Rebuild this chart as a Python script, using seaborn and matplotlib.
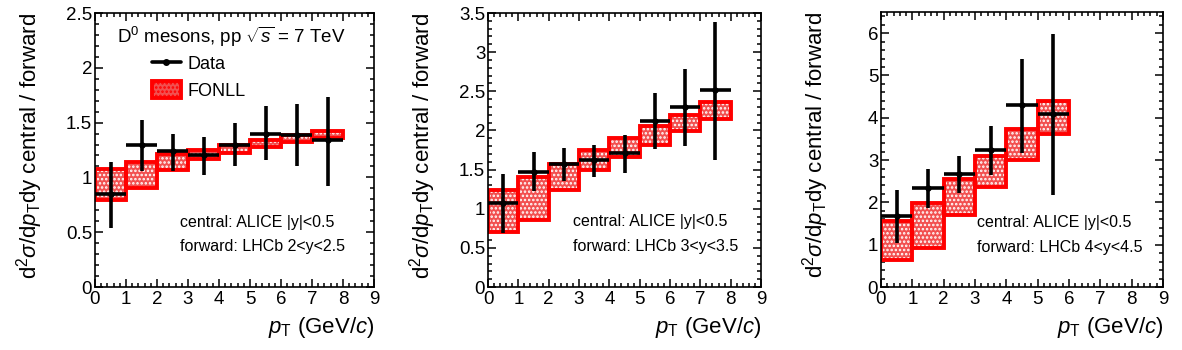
import numpy as np
import pandas as pd
import matplotlib
matplotlib.use("Agg")
import matplotlib.pyplot as plt
import seaborn as sns
from matplotlib.lines import Line2D
from matplotlib.patches import Patch
from matplotlib.ticker import MultipleLocator, FuncFormatter

# ---------------- data ----------------
pt_8 = [0.5, 1.5, 2.5, 3.5, 4.5, 5.5, 6.5, 7.5]
pt_6 = [0.5, 1.5, 2.5, 3.5, 4.5, 5.5]

# panel 1: LHCb 2<y<2.5
data1 = [0.85, 1.30, 1.24, 1.20, 1.30, 1.40, 1.39, 1.34]
data1_hi = [1.14, 1.52, 1.40, 1.37, 1.50, 1.65, 1.67, 1.73]
data1_lo = [0.54, 1.06, 1.06, 1.02, 1.10, 1.16, 1.10, 0.92]
fonll1_hi = [1.08, 1.14, 1.21, 1.25, 1.30, 1.34, 1.39, 1.42]
fonll1_lo = [0.79, 0.90, 1.07, 1.165, 1.22, 1.28, 1.32, 1.36]

# panel 2: LHCb 3<y<3.5
data2 = [1.07, 1.47, 1.57, 1.62, 1.71, 2.12, 2.30, 2.52]
data2_hi = [1.44, 1.73, 1.77, 1.82, 1.94, 2.48, 2.78, 3.38]
data2_lo = [0.69, 1.22, 1.35, 1.40, 1.46, 1.76, 1.80, 1.62]
fonll2_hi = [1.235, 1.40, 1.575, 1.745, 1.90, 2.06, 2.20, 2.36]
fonll2_lo = [0.70, 0.85, 1.235, 1.49, 1.66, 1.82, 1.99, 2.15]

# panel 3: LHCb 4<y<4.5
data3 = [1.69, 2.33, 2.66, 3.24, 4.31, 4.10]
data3_hi = [2.29, 2.78, 3.10, 3.81, 5.38, 5.99]
data3_lo = [1.04, 1.87, 2.23, 2.65, 3.16, 2.18]
fonll3_hi = [1.57, 1.98, 2.55, 3.10, 3.74, 4.40]
fonll3_lo = [0.65, 0.92, 1.71, 2.36, 3.01, 3.61]

panel_labels = ["forward: LHCb 2<y<2.5", "forward: LHCb 3<y<3.5", "forward: LHCb 4<y<4.5"]
central_label = "central: ALICE |y|<0.5"
title_text = r"D$^{0}$ mesons, pp $\sqrt{s}$ = 7 TeV"
ylabel = r"d$^{2}\sigma$/d$p_{\rm T}$dy central / forward"
xlabel = r"$p_{\rm T}$ (GeV/$c$)"

# ---------------- style ----------------
sns.set_theme(style="ticks")
plt.rcParams["font.family"] = ["Liberation Sans", "DejaVu Sans"]
plt.rcParams["mathtext.fontset"] = "custom"
plt.rcParams["mathtext.rm"] = "Liberation Sans"
plt.rcParams["mathtext.it"] = "Liberation Sans:italic"
plt.rcParams["mathtext.bf"] = "Liberation Sans:bold"
plt.rcParams["mathtext.sf"] = "Liberation Sans"
plt.rcParams["hatch.linewidth"] = 1.2
for k in ["text.color", "axes.labelcolor", "xtick.color", "ytick.color", "axes.edgecolor"]:
    plt.rcParams[k] = "black"

RED = "#ff0000"
FILL = "#f25050"

fig = plt.figure(figsize=(11.82, 3.5), dpi=100)
W, H = 1182.0, 350.0

panels = [
    dict(px=(95, 374), top=13, ylim=2.5, major=0.5, minor=0.1, pt=pt_8,
         d=data1, dhi=data1_hi, dlo=data1_lo, fhi=fonll1_hi, flo=fonll1_lo,
         txt=(0.305, 0.234, 0.146)),
    dict(px=(488, 761), top=13, ylim=3.5, major=0.5, minor=0.1, pt=pt_8,
         d=data2, dhi=data2_hi, dlo=data2_lo, fhi=fonll2_hi, flo=fonll2_lo,
         txt=(0.312, 0.238, 0.147)),
    dict(px=(881, 1163), top=12, ylim=6.5, major=1.0, minor=0.2, pt=pt_6,
         d=data3, dhi=data3_hi, dlo=data3_lo, fhi=fonll3_hi, flo=fonll3_lo,
         txt=(0.341, 0.234, 0.145)),
]

bottom_px = 287
for i, p in enumerate(panels):
    l, r = p["px"]
    ax = fig.add_axes([l / W, 1 - bottom_px / H, (r - l) / W, (bottom_px - p["top"]) / H])
    pt = np.array(p["pt"])
    d = np.array(p["d"]); dhi = np.array(p["dhi"]); dlo = np.array(p["dlo"])
    fhi = np.array(p["fhi"]); flo = np.array(p["flo"])

    # FONLL boxes: stippled fill + thick red outline
    ax.bar(pt, fhi - flo, bottom=flo, width=1.0, facecolor=FILL,
           edgecolor="white", linewidth=0, hatch="....", zorder=2)
    ax.bar(pt, fhi - flo, bottom=flo, width=1.0, facecolor="none",
           edgecolor=RED, linewidth=2.8, zorder=2.1)
    # Data error bars
    ax.errorbar(pt, d, yerr=[d - dlo, dhi - d], xerr=0.5, fmt="none",
                ecolor="black", elinewidth=2.6, capsize=0, zorder=3)
    df = pd.DataFrame({"pt": pt, "val": d})
    sns.scatterplot(data=df, x="pt", y="val", color="black", s=16,
                    edgecolor="black", linewidth=0.5, zorder=4, ax=ax, legend=False)

    ax.set_xlim(0, 9)
    ax.set_ylim(0, p["ylim"])
    ax.xaxis.set_major_locator(MultipleLocator(1))
    ax.xaxis.set_minor_locator(MultipleLocator(0.2))
    ax.yaxis.set_major_locator(MultipleLocator(p["major"]))
    ax.yaxis.set_minor_locator(MultipleLocator(p["minor"]))
    ax.yaxis.set_major_formatter(FuncFormatter(lambda v, pos: "%g" % v))
    ax.xaxis.set_major_formatter(FuncFormatter(lambda v, pos: "%g" % v))
    ax.tick_params(which="both", direction="in", top=True, right=True,
                   labelsize=13.5, width=1.1)
    ax.tick_params(which="major", length=6)
    ax.tick_params(which="minor", length=3)
    ax.tick_params(axis="y", pad=2)
    ax.tick_params(axis="x", pad=3)
    for s in ax.spines.values():
        s.set_linewidth(1.2)

    ax.set_ylabel(ylabel, fontsize=16, loc="top")
    ax.yaxis.label.set_va("center")
    ax.yaxis.set_label_coords(-65.0 / (r - l), 1.0)
    ax.set_xlabel(xlabel, fontsize=16, loc="right")
    ax.xaxis.label.set_va("center")
    ax.xaxis.set_label_coords(1.0, -41.0 / (bottom_px - p["top"]))

    tx, ty1, ty2 = p["txt"]
    ax.text(tx, ty1, central_label, transform=ax.transAxes, fontsize=11.5,
            ha="left", va="center")
    ax.text(tx, ty2, panel_labels[i], transform=ax.transAxes, fontsize=11.5,
            ha="left", va="center")

    if i == 0:
        ax.text(0.078, 0.913, title_text, transform=ax.transAxes, fontsize=13.5,
                ha="left", va="center")
        handles = [
            Line2D([], [], color="black", lw=2.6, marker="o", markersize=4),
            Patch(facecolor=FILL, edgecolor=RED, linewidth=2.8, hatch="...."),
        ]
        ax.legend(handles, ["Data", "FONLL"], loc="upper left",
                  bbox_to_anchor=(0.204, 0.85), frameon=False, fontsize=13,
                  handlelength=1.6, handleheight=1.1, handletextpad=0.35,
                  labelspacing=0.45, borderpad=0, borderaxespad=0)

fig.savefig("out.png", dpi=100)
